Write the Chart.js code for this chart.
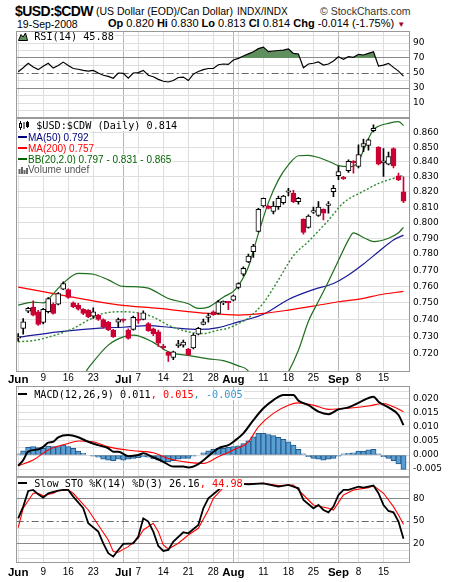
<!DOCTYPE html>
<html>
<head>
<meta charset="utf-8">
<script src="https://cdn.jsdelivr.net/npm/chart.js@4.4.1/dist/chart.umd.min.js"></script>
<style>
  body { margin: 0; background: #fff; }
  #wrap { position: relative; width: 460px; height: 582px; overflow: hidden; font-family: "Liberation Sans", Arial, sans-serif; color: #000; }
  canvas { position: absolute; left: 0; }
  .t { position: absolute; white-space: nowrap; line-height: 1; }
  .lg { position: absolute; left: 18px; white-space: nowrap; background: #fff; font-size: 10px; line-height: 11px; padding-right: 1px; }
  .mono { font-family: "DejaVu Sans Mono", monospace; font-size: 10.2px; line-height: 10px; }
  .dash { display: inline-block; width: 9px; height: 2px; vertical-align: 3px; margin-right: 1px; }
  svg { vertical-align: -1px; }
</style>
</head>
<body>
<div id="wrap">
  <div class="t" style="left:15px;top:4px;font-size:14px;font-weight:bold;letter-spacing:-0.6px">$USD:$CDW</div>
  <div class="t" style="left:96px;top:6px;font-size:10.5px">(US Dollar (EOD)/Can Dollar)</div>
  <div class="t" style="left:237px;top:6.5px;font-size:10px">INDX/INDX</div>
  <div class="t" style="left:320px;top:6px;font-size:10.5px;color:#333">© StockCharts.com</div>
  <div class="t" style="left:17px;top:18.5px;font-size:10.5px">19-Sep-2008</div>
  <div class="t" style="left:108px;top:18px;font-size:11px"><b>Op</b> 0.820 <b>Hi</b> 0.830 <b>Lo</b> 0.813 <b>Cl</b> 0.814 <b>Chg</b> -0.014 (-1.75%) <span style="color:#990033;font-size:8px">&#9660;</span></div>

  <canvas id="rsi" width="460" height="87" style="top:31px"></canvas>
  <canvas id="main" width="460" height="270" style="top:118px"></canvas>
  <canvas id="macd" width="460" height="91" style="top:386px"></canvas>
  <canvas id="sto" width="460" height="105" style="top:477px"></canvas>

  <div class="lg mono" style="top:31.5px"><svg width="10" height="9"><path d="M0.5 8.5L3 2.5L5 5L7.5 1L9.5 8.5Z" fill="#5f8f5f" stroke="#000"/></svg> RSI(14) 45.88</div>

  <div class="lg mono" style="top:121px"><svg width="12" height="9"><path d="M2.5 0V9M6 1V8M9.5 0V7" stroke="#000"/><rect x="1.5" y="2.5" width="2" height="4" fill="#fff" stroke="#000"/><rect x="8.5" y="1.5" width="2" height="4" fill="#000" stroke="#000"/></svg> $USD:$CDW (Daily) 0.814</div>
  <div class="lg" style="top:131.5px;color:#000080"><span class="dash" style="background:#000080"></span>MA(50) 0.792</div>
  <div class="lg" style="top:142.5px;color:#ff0000"><span class="dash" style="background:#ff0000"></span>MA(200) 0.757</div>
  <div class="lg" style="top:153.5px;color:#006400"><span class="dash" style="background:#006400"></span>BB(20,2.0) 0.797 - 0.831 - 0.865</div>
  <div class="lg" style="top:164px;color:#555"><svg width="10" height="9"><path d="M1.5 9V4M4 9V2M6.5 9V5M9 9V3" stroke="#666" stroke-width="2"/></svg>Volume undef</div>

  <div class="lg mono" style="top:390px"><span class="dash" style="background:#000"></span> MACD(12,26,9) 0.011<span style="color:#ff0000">, 0.015</span><span style="color:#3399cc">, -0.005</span></div>
  <div class="lg mono" style="top:478.5px"><span class="dash" style="background:#000"></span> Slow STO %K(14) %D(3) 26.16<span style="color:#ff0000">, 44.98</span></div>
</div>

<script>
// x axis: trading day index 0 = 2-Jun-2008 ... 77 = 19-Sep-2008
const tickIdx = [0, 5, 10, 15, 21, 24, 29, 34, 39, 43, 49, 54, 59, 64, 68, 73];
const tickText = ['Jun', '9', '16', '23', 'Jul', '7', '14', '21', '28', 'Aug', '11', '18', '25', 'Sep', '8', '15'];
const monthIdx = [0, 21, 43, 64];
const gridIdx = [0, 5, 10, 15, 21, 24, 29, 34, 39, 43, 44, 49, 54, 59, 64, 68, 73];

// daily candles
const opens = [.7290,.7348,.7451,.7473,.7447,.7383,.7447,.7491,.7493,.7584,
  .7581,.7501,.7487,.7461,.7457,.7421,.7427,.7401,.7385,.7336,
  .7385,.7403,.7338,.7342,.7401,.7401,.7377,.7345,.7328,.7245,
  .7208,.7178,.7245,.7250,.7227,.7233,.7314,.7372,.7413,.7447,
  .7437,.7500,.7505,.7517,.7594,.7676,.7752,.7815,.7943,.8108,
  .8108,.8072,.8104,.8130,.8198,.8191,.8136,.8023,.7970,.8068,
  .8046,.8086,.8112,.8202,.8307,.8299,.8342,.8405,.8370,.8505,
  .8512,.8614,.8500,.8393,.8385,.8490,.8306,.8200];
const highs = [.7318,.7407,.7473,.7513,.7455,.7468,.7532,.7500,.7562,.7628,
  .7586,.7507,.7497,.7466,.7460,.7471,.7432,.7405,.7390,.7342,
  .7410,.7405,.7345,.7421,.7440,.7453,.7383,.7350,.7338,.7255,
  .7212,.7215,.7278,.7280,.7232,.7318,.7355,.7403,.7437,.7452,
  .7515,.7512,.7508,.7548,.7622,.7721,.7800,.7861,.8093,.8160,
  .8110,.8136,.8173,.8178,.8224,.8211,.8165,.8025,.8050,.8100,
  .8136,.8090,.8136,.8244,.8370,.8303,.8415,.8410,.8517,.8555,
  .8555,.8655,.8505,.8490,.8467,.8495,.8325,.8300];
const lows = [.7273,.7314,.7441,.7422,.7365,.7375,.7440,.7432,.7488,.7580,
  .7528,.7471,.7457,.7430,.7412,.7407,.7396,.7350,.7335,.7295,
  .7355,.7385,.7285,.7338,.7378,.7398,.7330,.7305,.7243,.7225,
  .7155,.7165,.7236,.7238,.7190,.7228,.7310,.7368,.7385,.7425,
  .7432,.7490,.7460,.7512,.7585,.7664,.7746,.7780,.7940,.8100,
  .8088,.8057,.8085,.8120,.8173,.8130,.8120,.7927,.7965,.8060,
  .8040,.8017,.8061,.8168,.8281,.8283,.8330,.8325,.8359,.8470,
  .8480,.8605,.8380,.8303,.8380,.8360,.8275,.8130];
const closes = [.7292,.7387,.7467,.7427,.7372,.7461,.7527,.7437,.7557,.7618,
  .7533,.7477,.7463,.7437,.7417,.7447,.7401,.7358,.7340,.7300,
  .7401,.7395,.7289,.7413,.7395,.7441,.7334,.7315,.7262,.7235,
  .7190,.7211,.7257,.7268,.7195,.7308,.7348,.7387,.7421,.7430,
  .7507,.7505,.7500,.7543,.7618,.7711,.7788,.7850,.8086,.8158,
  .8092,.8108,.8158,.8173,.8205,.8136,.8158,.7937,.8042,.8072,
  .8101,.8061,.8118,.8224,.8336,.8288,.8404,.8395,.8450,.8525,
  .8550,.8630,.8385,.8408,.8437,.8374,.8280,.8140];

// overlays, [day index, value]
const ma50 = [[0,.7295],[8,.7328],[17,.7351],[21,.7355],[26,.7365],[31,.7352],[36,.7342],[40,.7353],[44,.7387],
  [49,.7432],[54,.7521],[59,.7581],[63,.7618],[66,.7670],[69,.7738],[72,.7815],[75,.7889],[77,.7920]];
const ma200 = [[0,.7596],[10,.7540],[20,.7488],[28,.7467],[38,.7437],[44,.7427],[49,.7437],[54,.7457],
  [59,.7481],[64,.7507],[69,.7528],[72,.7548],[77,.7570]];
const bbUpper = [[0,.7487],[3,.7505],[5,.7500],[7,.7555],[9,.7620],[12,.7680],[15,.7675],[18,.7640],[21,.7600],
  [24,.7598],[26,.7590],[30,.7527],[34,.7495],[36,.7467],[38,.7475],[41,.7535],[43,.7570],[44,.7605],[46,.7720],
  [48,.7930],[50,.8130],[52,.8280],[54,.8380],[56,.8442],[58,.8445],[60,.8430],[62,.8405],[64,.8375],[66,.8368],
  [68,.8400],[69,.8480],[70,.8560],[71,.8620],[72,.8645],[74,.8665],[76,.8677],[77,.8650]];
const bbMiddle = [[0,.7270],[3,.7276],[7,.7305],[11,.7348],[14,.7397],[17,.7437],[21,.7447],[24,.7440],[27,.7415],
  [30,.7367],[34,.7328],[37,.7318],[40,.7338],[42,.7350],[44,.7377],[46,.7410],[49,.7500],[52,.7640],[55,.7790],
  [58,.7880],[62,.8016],[65,.8128],[69,.8205],[72,.8256],[76,.8300],[77,.8310]];
const bbLower = [[0,.7053],[7,.7055],[12,.7040],[14,.7117],[18,.7250],[21,.7298],[23,.7308],[27,.7266],[30,.7211],
  [34,.7190],[38,.7170],[41,.7160],[44,.7130],[46,.7100],[48,.6970],[50,.6930],[52,.7000],[54,.7095],[56,.7220],
  [58,.7390],[60,.7510],[62,.7630],[64,.7760],[66,.7890],[67,.7935],[69,.7905],[71,.7879],[74,.7900],[76,.7935],[77,.7970]];

// RSI(14), daily
const rsi = [51.7,57,63,58,54.5,59,63,56.5,60,64.5,
  60,56,55,53.5,52.5,53.5,50,47,45.5,43,
  50,49.5,43,50,50.5,53.5,47,45,41.5,39,
  38,40,44,44.5,40,48.5,52,54.5,56,56,
  61,62,61.5,67.3,69.5,72.6,75.5,78.4,82.5,84.5,
  78.4,79.3,80,80.6,82,76.2,75.3,57.1,62,63,
  64.7,60.6,62,66,71.7,68.2,71.7,70.9,74.9,74,
  76.2,78.4,59.3,60.5,62.9,57.5,52.5,45.88];

// MACD(12,26,9)
const macdLine = [[0,-.0038],[1,-.0018],[2,.0012],[4,.0020],[5,.0029],[6,.0044],[7,.0047],[8,.0063],[10,.0071],
  [12,.0063],[14,.0047],[16,.0035],[18,.0024],[19,.0012],[20,.0012],[22,-.0004],[24,.0000],[25,.0006],[27,-.0008],
  [29,-.0024],[31,-.0041],[33,-.0041],[34,-.0044],[36,-.0032],[38,-.0004],[40,.0024],[42,.0035],[43,.0047],
  [45,.0077],[47,.0124],[49,.0166],[51,.0195],[53,.0213],[55,.0213],[56,.0193],[58,.0177],[60,.0154],[62,.0145],
  [64,.0162],[66,.0169],[68,.0185],[71,.0207],[72,.0189],[74,.0169],[76,.0142],[77,.0106]];
const macdSignal = [[0,-.0038],[3,-.0018],[6,.0018],[10,.0041],[12,.0050],[15,.0047],[18,.0029],[23,.0015],
  [27,.0008],[30,-.0012],[34,-.0026],[37,-.0030],[40,-.0006],[43,.0018],[46,.0047],[48,.0100],[51,.0148],
  [54,.0177],[56,.0185],[59,.0177],[62,.0162],[66,.0166],[70,.0174],[73,.0183],[75,.0171],[77,.0154]];
const macdHist = [.0004,.0015,.0027,.0030,.0026,.0024,.0032,.0030,.0030,.0035,
  .0030,.0024,.0014,.0006,0,-.0004,-.0008,-.0015,-.0018,-.0020,
  -.0015,-.0018,-.0015,-.0012,-.0009,-.0006,-.0008,-.0014,-.0018,-.0024,
  -.0024,-.0020,-.0015,-.0012,-.0012,-.0004,0,.0008,.0015,.0020,
  .0024,.0024,.0027,.0030,.0033,.0041,.0050,.0065,.0077,.0077,
  .0073,.0069,.0063,.0056,.0047,.0035,.0020,.0004,-.0006,-.0012,
  -.0015,-.0018,-.0015,-.0012,-.0004,.0004,.0006,.0008,.0014,.0014,
  .0018,.0020,.0004,-.0006,-.0012,-.0020,-.0032,-.0051];

// Slow STO %K(14) %D(3)
const stoK = [[0,53.3],[1,68.9],[2,89.8],[3,91.1],[4,85.3],[5,80.9],[6,86.7],[8,90.2],[9,91.1],[10,91.1],[11,82.2],
  [13,66.7],[14,46.7],[16,35.5],[17,20],[18,6.7],[19,2.2],[20,11.1],[21,19.1],[23,20],[24,28.9],[25,53.3],[26,48.9],
  [27,35.5],[28,16.4],[29,9.8],[30,11.1],[31,22.2],[33,34.7],[34,33.3],[36,44.4],[37,66.7],[38,80],[40,91.1],
  [41,97.8],[43,100],[46,98.7],[49,100],[52,95.5],[54,97.8],[56,93.3],[57,77.8],[59,66.7],[60,71.1],[61,64.4],
  [62,61.3],[63,68.9],[64,84.4],[65,91.1],[66,91.1],[68,95.5],[69,94.2],[71,96.9],[72,86.7],[73,71.1],[74,63.1],
  [75,61.3],[76,48.9],[77,26.16]];
const stoD = [[0,40.9],[1,66.7],[3,86.7],[4,86.7],[5,83.5],[7,86.7],[8,90.2],[10,91.1],[11,86.7],[14,64.4],[16,44.4],
  [18,24.4],[19,8.9],[20,8],[22,15.5],[24,26.7],[25,37.8],[27,46.7],[28,35.5],[29,17.8],[30,12.4],[32,20],[34,31.1],
  [36,40],[38,64.4],[39,80],[41,94.2],[44,98.7],[49,100],[52,96.9],[55,97.8],[57,84.4],[59,71.1],[62,66.7],[63,64.4],
  [65,84.4],[67,91.1],[70,94.2],[71,96.9],[73,86.7],[75,68.9],[76,57.8],[77,44.98]];

// y tick labels
const priceTicks = [0.72,0.73,0.74,0.75,0.76,0.77,0.78,0.79,0.80,0.81,0.82,0.83,0.84,0.85,0.86];
const rsiTicks = [10, 30, 50, 70, 90];
const macdTicks = [-0.005, 0, 0.005, 0.010, 0.015, 0.020];
const stoTicks = [20, 50, 80];

Chart.defaults.animation = false;
Chart.defaults.events = [];
Chart.defaults.plugins.legend.display = false;
Chart.defaults.plugins.tooltip.enabled = false;

const pts = arr => arr.map(([x, y]) => ({ x, y }));
const steps = (from, to, step) => {
  const out = [];
  for (let k = Math.round(from / step); k <= Math.round(to / step); k++) out.push(+(k * step).toFixed(6));
  return out;
};
const near = (list, v) => list.some(l => Math.abs(l - v) < 1e-7);
const tickVal = c => (c && c.tick) ? c.tick.value : null;

// frame round the plot plus dashed reference lines
const frame = {
  id: 'frame',
  beforeDatasetsDraw(chart, args, opts) {
    const { ctx, chartArea: a, scales: { y } } = chart;
    (opts.lines || []).forEach(l => {
      const py = Math.round(y.getPixelForValue(l.value)) + 0.5;
      ctx.save();
      ctx.strokeStyle = l.color;
      ctx.lineWidth = 1;
      ctx.setLineDash(l.dash);
      ctx.beginPath();
      ctx.moveTo(a.left, py);
      ctx.lineTo(a.right, py);
      ctx.stroke();
      ctx.restore();
    });
  },
  afterDraw(chart) {
    const { ctx, chartArea: a } = chart;
    ctx.save();
    ctx.strokeStyle = '#9a9a9a';
    ctx.lineWidth = 1;
    ctx.strokeRect(Math.round(a.left) - 0.5, Math.round(a.top) + 0.5,
      Math.round(a.right - a.left) + 1, Math.round(a.bottom - a.top) - 1);
    ctx.restore();
  }
};

function xAxis(showLabels, height, pad) {
  return {
    type: 'linear', min: -0.3, max: 78.1, bounds: 'data', offset: false,
    afterBuildTicks: s => { s.ticks = gridIdx.map(v => ({ value: v })); },
    afterFit: s => { s.height = height; s.paddingLeft = 0; s.paddingRight = 0; },
    border: { display: false },
    grid: {
      offset: false, drawTicks: false,
      color: c => (monthIdx.includes(tickVal(c)) && tickVal(c) > 0) ? '#b4b4b4' : '#dedede'
    },
    ticks: {
      display: showLabels, autoSkip: false, maxRotation: 0, padding: pad, color: '#000',
      callback: v => { const k = tickIdx.indexOf(v); return k < 0 ? '' : tickText[k]; },
      font: c => monthIdx.includes(tickVal(c))
        ? { family: 'Liberation Sans', size: 11.5, weight: 'bold' }
        : { family: 'Liberation Sans', size: 10 }
    }
  };
}

function yAxis(type, min, max, gridVals, labels, fmt, dark, hidden) {
  return {
    type, min, max, position: 'right', bounds: 'data',
    afterBuildTicks: s => { s.ticks = gridVals.map(v => ({ value: v })); },
    afterFit: s => { s.width = 51; s.paddingTop = 0; s.paddingBottom = 0; },
    border: { display: false },
    grid: {
      drawTicks: false,
      color: c => {
        const v = tickVal(c);
        if (v === null) return '#dedede';
        return near(hidden, v) ? 'rgba(0,0,0,0)' : near(dark, v) ? '#8a8a8a' : '#dedede';
      }
    },
    ticks: {
      padding: 4, autoSkip: false, color: '#000', font: { family: 'DejaVu Sans', size: 9 },
      callback: v => near(labels, v) ? fmt(v) : ''
    }
  };
}

const pad = { left: 16.7, right: 0, top: 0, bottom: 0 };
const dashDot = [7, 3, 2, 3];

// RSI panel
new Chart(document.getElementById('rsi'), {
  type: 'line',
  data: {
    datasets: [{
      data: rsi.map((v, i) => ({ x: i, y: v })),
      borderColor: '#000', borderWidth: 1.2, pointRadius: 0, tension: 0,
      fill: { target: { value: 70 }, above: '#5f8f5f', below: 'rgba(0,0,0,0)' }
    }]
  },
  options: {
    responsive: false, layout: { padding: pad },
    scales: {
      x: xAxis(false, 0, 0),
      y: yAxis('linear', -10, 106, steps(0, 100, 10), rsiTicks, v => String(v), [30, 70], [50])
    },
    plugins: { frame: { lines: [{ value: 50, color: '#6a6a6a', dash: dashDot }] } }
  },
  plugins: [frame]
});

// price panel
const up = closes.map((c, i) => c >= opens[i]);
const downRed = '#cc0033';
const overlay = (arr, color, width, dash, order) => ({
  type: 'line', data: pts(arr), borderColor: color, borderWidth: width, borderDash: dash,
  pointRadius: 0, cubicInterpolationMode: 'monotone', order
});
new Chart(document.getElementById('main'), {
  type: 'bar',
  data: {
    datasets: [
      {
        data: opens.map((o, i) => ({ x: i, y: [o, closes[i]] })),
        backgroundColor: up.map(u => u ? '#fff' : downRed),
        borderColor: up.map(u => u ? '#000' : downRed),
        borderWidth: 1, borderSkipped: false, barThickness: 5, minBarLength: 1.5, grouped: false, order: 0
      },
      {
        data: lows.map((l, i) => ({ x: i, y: [l, highs[i]] })),
        backgroundColor: up.map(u => u ? '#000' : downRed),
        barThickness: 1, grouped: false, order: 1
      },
      overlay(bbMiddle, '#2e8b2e', 1.4, [2, 2], 2),
      overlay(bbUpper, '#1e6e1e', 1.2, [], 3),
      overlay(bbLower, '#1e6e1e', 1.2, [], 4),
      overlay(ma200, '#ff0000', 1.2, [], 5),
      overlay(ma50, '#1a1a9a', 1.2, [], 6)
    ]
  },
  options: {
    responsive: false, layout: { padding: pad },
    scales: {
      x: xAxis(true, 16, 0.6),
      y: yAxis('logarithmic', 0.7095, 0.8702, priceTicks, priceTicks, v => v.toFixed(3), [], [])
    }
  },
  plugins: [frame]
});

// MACD panel
new Chart(document.getElementById('macd'), {
  type: 'bar',
  data: {
    datasets: [
      { type: 'line', data: pts(macdLine), borderColor: '#000', borderWidth: 2, pointRadius: 0, cubicInterpolationMode: 'monotone', order: 0 },
      { type: 'line', data: pts(macdSignal), borderColor: '#ff0000', borderWidth: 1.1, pointRadius: 0, cubicInterpolationMode: 'monotone', order: 1 },
      {
        data: macdHist.map((v, i) => ({ x: i, y: v })),
        backgroundColor: '#5a9fd2', borderColor: '#22588c', borderWidth: 1, borderSkipped: false,
        barThickness: 5.2, grouped: false, order: 2
      }
    ]
  },
  options: {
    responsive: false, layout: { padding: pad },
    scales: {
      x: xAxis(false, 0, 0),
      y: yAxis('linear', -0.0078, 0.0245, steps(-0.0075, 0.0225, 0.0025), macdTicks, v => v.toFixed(3), [], [])
    }
  },
  plugins: [frame]
});

// Slow stochastic panel
new Chart(document.getElementById('sto'), {
  type: 'line',
  data: {
    datasets: [
      { data: pts(stoK), borderColor: '#000', borderWidth: 1.8, pointRadius: 0, tension: 0, order: 0 },
      { data: pts(stoD), borderColor: '#ff0000', borderWidth: 1.1, pointRadius: 0, tension: 0, order: 1 }
    ]
  },
  options: {
    responsive: false, layout: { padding: pad },
    scales: {
      x: xAxis(true, 18.7, 3.1),
      y: yAxis('linear', -6.7, 108.4, steps(0, 100, 10), stoTicks, v => String(v), [20, 80], [50])
    },
    plugins: { frame: { lines: [{ value: 50, color: '#6a6a6a', dash: dashDot }] } }
  },
  plugins: [frame]
});
</script>
</body>
</html>
